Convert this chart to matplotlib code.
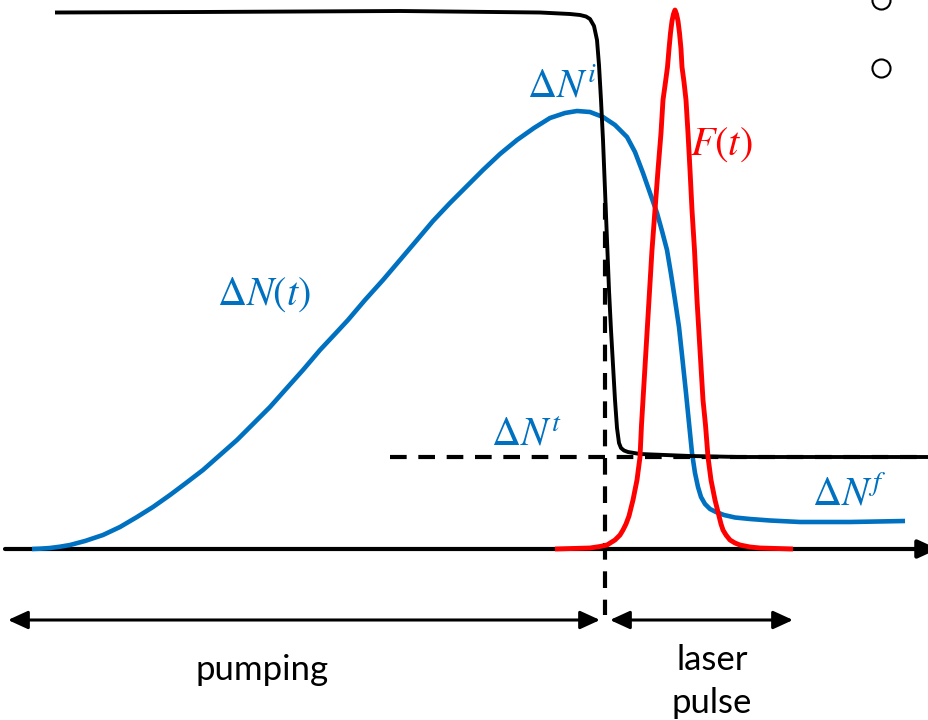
import matplotlib
matplotlib.use("Agg")
import matplotlib.pyplot as plt

plt.rcParams["mathtext.fontset"] = "stix"

BLUE = "#0070C0"
RED = "#FF0000"

# population inversion dN(t): time vs height above the time axis
dn_t = [32, 40, 50, 60, 70, 85, 103, 120, 137, 153, 170, 186, 203, 220, 237, 253, 270, 286, 303, 320,
        335, 348, 365, 383, 400, 417, 433, 450, 467, 483, 500, 517, 534, 550, 565, 577, 590, 603, 615, 627,
        635, 643, 650, 657, 662, 667, 671, 675, 679, 682, 686, 689, 692, 695, 698, 701, 705, 710, 716, 724,
        735, 750, 770, 800, 850, 905]
dn_h = [0, 0.3, 1, 2.3, 4, 8, 14, 22, 32, 42, 54, 66, 79, 94, 109, 125, 142, 160, 179, 199,
        215, 229, 249, 269, 289, 309, 328, 346, 363, 379, 395, 409, 421, 431, 436, 438, 437, 432, 424, 412,
        397, 376, 356, 336, 318, 299, 275, 249, 222, 194, 156, 126, 96, 76, 62, 52, 45, 40, 37, 34,
        31.5, 30, 28.5, 27, 27, 28]

# cavity loss (Q-switch), black
loss_t = [55, 200, 400, 540, 570, 580, 586, 590, 594, 597, 599, 601, 603, 605, 607, 609, 611, 613, 615, 617,
          619, 621, 624, 628, 640, 690, 740, 929]
loss_h = [536.5, 537, 538, 536.5, 535, 534, 532.5, 530, 523, 509, 484, 449, 409, 359, 309, 259, 219, 184, 149, 121,
          106, 101, 98.5, 97, 95, 93, 92, 92]

# photon flux F(t), red
f_t = [555, 590, 600, 607, 615, 620, 623, 626, 629, 633, 637, 640, 641.5, 643, 646, 649, 652, 655, 658, 661,
       663, 665.5, 667.5, 669, 670.5, 672, 673.5, 675, 676.5, 678, 679.5, 681, 682, 684, 686, 688, 690, 692,
       694.5, 697, 700, 703, 705.5, 708, 711, 715, 719, 721, 723, 726, 730, 735, 740, 750, 760, 793]
f_h = [0, 1, 2.5, 4, 9, 14, 19, 25, 33, 49, 69, 92, 124, 149, 199, 249, 299, 339, 379, 416,
       449, 467, 482, 500, 516, 528, 535, 539, 535, 528, 516, 500, 482, 467, 449, 416, 379, 339,
       299, 249, 199, 149, 124, 92, 69, 49, 33, 25, 19, 14, 9, 6, 4, 2, 1, 0]

threshold = 92
t_switch = 605
pump_span = (8, 600)
pulse_span = (610, 793)

fig = plt.figure(figsize=(9.29, 7.2), dpi=100)
ax = fig.add_axes([0, 0, 1, 1])
ax.set_xlim(0, 929)
ax.set_ylim(-171, 549)
ax.axis("off")

# time axis
ax.annotate("", xy=(938, 0), xytext=(5, 0), annotation_clip=False,
            arrowprops=dict(arrowstyle="-|>,head_length=1.2,head_width=0.55", mutation_scale=10,
                            lw=3.0, color="black", shrinkA=0, shrinkB=0), zorder=1)

# threshold and switching time
dash = (0, (4.0, 2.8))
ax.plot([390, 929], [threshold, threshold], color="black", lw=3.0, ls=dash, zorder=2)
ax.plot([t_switch, t_switch], [346, -66], color="black", lw=3.0, ls=dash, zorder=2)

ax.plot(dn_t, dn_h, color=BLUE, lw=3.3, solid_joinstyle="round", solid_capstyle="butt", zorder=3)
ax.plot(loss_t, loss_h, color="black", lw=2.8, solid_joinstyle="round", solid_capstyle="butt", zorder=4)
ax.plot(f_t, f_h, color=RED, lw=3.5, solid_joinstyle="round", solid_capstyle="butt", zorder=5)

# span arrows
for a, b in (pump_span, pulse_span):
    ax.annotate("", xy=(b, -71), xytext=(a, -71), annotation_clip=False,
                arrowprops=dict(arrowstyle="<|-|>,head_length=1.2,head_width=0.55", mutation_scale=10,
                                lw=2.2, color="black", shrinkA=0, shrinkB=0))

ax.text(217, 244, r"$\Delta N(t)$", color=BLUE, fontsize=29, va="baseline")
ax.text(527, 451, r"$\Delta N^{i}$", color=BLUE, fontsize=29, va="baseline")
ax.text(690, 394, r"$F(t)$", color=RED, fontsize=29, va="baseline")
ax.text(491, 104, r"$\Delta N^{t}$", color=BLUE, fontsize=29, va="baseline")
ax.text(812, 44, r"$\Delta N^{f}$", color=BLUE, fontsize=29, va="baseline")

ax.text(262, -131, "pumping", fontsize=25, family="Lato", ha="center", va="baseline")
ax.text(712, -121, "laser", fontsize=25, family="Lato", ha="center", va="baseline")
ax.text(712, -164, "pulse", fontsize=25, family="Lato", ha="center", va="baseline")

# bullet marks cut at the right edge
ax.plot([881, 881], [549, 481], ls="none", marker="o", ms=13, mfc="white", mec="black", mew=1.5)

fig.savefig("out.png", dpi=100)
